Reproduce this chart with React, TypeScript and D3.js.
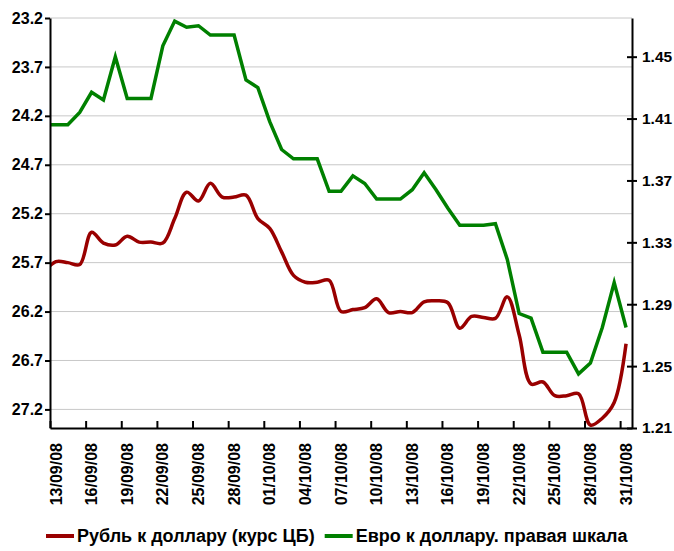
import {useEffect, useRef} from "react"

import * as d3 from "d3"

// first day is the day before the axis starts; it is clipped at the left edge
const firstDay = "12/09/08"
const lastDay = "31/10/08"
const axisStart = "13/09/08"
const axisEnd = "01/11/08"

// ruble per dollar, central bank rate (left axis, inverted)
const rubPerUsd = [
  25.8, 25.69, 25.7, 25.72, 25.39, 25.5, 25.52, 25.43, 25.49, 25.49,
  25.5, 25.25, 24.98, 25.07, 24.89, 25.03, 25.03, 25.01, 25.25, 25.35,
  25.59, 25.83, 25.9, 25.9, 25.88, 26.2, 26.18, 26.16, 26.07, 26.21,
  26.2, 26.21, 26.1, 26.09, 26.11, 26.37, 26.25, 26.26, 26.27, 26.05,
  26.44, 26.94, 26.92, 27.06, 27.06, 27.04, 27.36, 27.29, 27.13, 26.53,
]

// dollars per euro (right axis)
const usdPerEur = [
  1.406, 1.406, 1.406, 1.414, 1.427, 1.422, 1.45, 1.423, 1.423, 1.423,
  1.457, 1.473, 1.469, 1.47, 1.464, 1.464, 1.464, 1.435, 1.43, 1.408,
  1.39, 1.384, 1.384, 1.384, 1.363, 1.363, 1.373, 1.368, 1.358, 1.358,
  1.358, 1.364, 1.375, 1.364, 1.352, 1.341, 1.341, 1.341, 1.342, 1.319,
  1.284, 1.281, 1.259, 1.259, 1.259, 1.245, 1.252, 1.275, 1.304, 1.275,
]

const leftTicks = [23.2, 23.7, 24.2, 24.7, 25.2, 25.7, 26.2, 26.7, 27.2]
const rightTicks = [1.21, 1.25, 1.29, 1.33, 1.37, 1.41, 1.45]
const dateTicks = [
  "13/09/08", "16/09/08", "19/09/08", "22/09/08", "25/09/08", "28/09/08",
  "01/10/08", "04/10/08", "07/10/08", "10/10/08", "13/10/08", "16/10/08",
  "19/10/08", "22/10/08", "25/10/08", "28/10/08", "31/10/08",
]

const seriesNames = ["Рубль к доллару (курс ЦБ)", "Евро к доллару. правая шкала"]
const seriesColors = ["#990000", "#008000"]

const width = 674
const height = 551
const plot = {left: 50, right: 632, top: 18, bottom: 428}
const font = "'Liberation Sans', Arial, sans-serif"

const App = (): JSX.Element => {
  const ref = useRef<SVGSVGElement>(null)

  useEffect(() => {
    const svg = d3.select(ref.current)
    svg.selectAll("*").remove()

    const parse = d3.utcParse("%d/%m/%y")
    const days = d3.utcDay.range(parse(firstDay), d3.utcDay.offset(parse(lastDay), 1))
    const mid = (d: Date) => d3.utcHour.offset(d, 12)

    const x = d3
      .scaleUtc()
      .domain([parse(axisStart), parse(axisEnd)])
      .range([plot.left, plot.right])
    const yLeft = d3.scaleLinear().domain([23.2, 27.39]).range([plot.top, plot.bottom])
    const yRight = d3.scaleLinear().domain([1.21, 1.475]).range([plot.bottom, plot.top])

    // gridlines
    svg
      .append("g")
      .selectAll("line")
      .data(leftTicks)
      .join("line")
      .attr("x1", plot.left)
      .attr("x2", plot.right)
      .attr("y1", (d) => yLeft(d))
      .attr("y2", (d) => yLeft(d))
      .attr("stroke", "#c8c8c8")
      .attr("stroke-width", 1)

    svg
      .append("defs")
      .append("clipPath")
      .attr("id", "plot-clip")
      .append("rect")
      .attr("x", plot.left)
      .attr("y", 0)
      .attr("width", plot.right - plot.left)
      .attr("height", plot.bottom + 2)

    const lines = svg.append("g").attr("clip-path", "url(#plot-clip)")

    const rubLine = d3
      .line<number>()
      .x((_, i) => x(mid(days[i])))
      .y((d) => yLeft(d))
      .curve(d3.curveCatmullRom.alpha(0.5))

    const eurLine = d3
      .line<number>()
      .x((_, i) => x(mid(days[i])))
      .y((d) => yRight(d))

    lines
      .append("path")
      .attr("d", rubLine(rubPerUsd))
      .attr("fill", "none")
      .attr("stroke", seriesColors[0])
      .attr("stroke-width", 3.5)
      .attr("stroke-linejoin", "round")

    lines
      .append("path")
      .attr("d", eurLine(usdPerEur))
      .attr("fill", "none")
      .attr("stroke", seriesColors[1])
      .attr("stroke-width", 3.5)

    const styleAxis = (g: d3.Selection<SVGGElement, unknown, null, undefined>) => {
      g.select(".domain").attr("stroke", "#000").attr("stroke-width", 2)
      g.selectAll(".tick line").attr("stroke", "#000").attr("stroke-width", 2)
      g.selectAll("text")
        .attr("fill", "#000")
        .attr("font-family", font)
        .attr("font-weight", "bold")
        .attr("font-size", 16)
    }

    // left axis
    svg
      .append("g")
      .attr("transform", `translate(${plot.left},0)`)
      .call(
        d3
          .axisLeft(yLeft)
          .tickValues(leftTicks)
          .tickSize(5)
          .tickSizeOuter(0)
          .tickPadding(2)
          .tickFormat(d3.format(".1f"))
      )
      .call(styleAxis)

    // right axis, ticks cross the line
    const right = svg
      .append("g")
      .attr("transform", `translate(${plot.right},0)`)
      .call(
        d3
          .axisRight(yRight)
          .tickValues(rightTicks)
          .tickSize(5)
          .tickSizeOuter(0)
          .tickPadding(5)
          .tickFormat(d3.format(".2f"))
      )
      .call(styleAxis)
    right.selectAll(".tick line").attr("x1", -5)
    right.selectAll("text").attr("font-size", 15.5)

    // bottom axis, ticks inside, labels rotated
    const bottom = svg
      .append("g")
      .attr("transform", `translate(0,${plot.bottom})`)
      .call(
        d3
          .axisBottom(x)
          .tickValues(dateTicks.map((d) => parse(d)))
          .tickSize(-7)
          .tickSizeOuter(0)
          .tickFormat((d) => d3.utcFormat("%d/%m/%y")(d as Date))
      )
      .call(styleAxis)
    bottom
      .selectAll(".tick text")
      .attr("transform", "rotate(-90)")
      .attr("text-anchor", "end")
      .attr("x", -15)
      .attr("y", 11)
      .attr("dy", null)

    // legend
    const legend = svg.append("g").attr("transform", "translate(46,536)")
    let offset = 0
    seriesNames.forEach((name, i) => {
      const item = legend.append("g").attr("transform", `translate(${offset},0)`)
      item
        .append("line")
        .attr("x1", 0)
        .attr("x2", 28)
        .attr("stroke", seriesColors[i])
        .attr("stroke-width", 4)
      const text = item
        .append("text")
        .attr("x", 31)
        .attr("dy", "0.36em")
        .attr("font-family", font)
        .attr("font-weight", "bold")
        .attr("font-size", 18)
        .attr("fill", "#000")
        .text(name)
      offset += 31 + (text.node() as SVGTextElement).getComputedTextLength() + 10
    })
  }, [])

  return (
    <svg
      ref={ref}
      width={width}
      height={height}
      style={{display: "block", position: "absolute", left: 0, top: 0, background: "#fff"}}
    />
  )
}

export default App
